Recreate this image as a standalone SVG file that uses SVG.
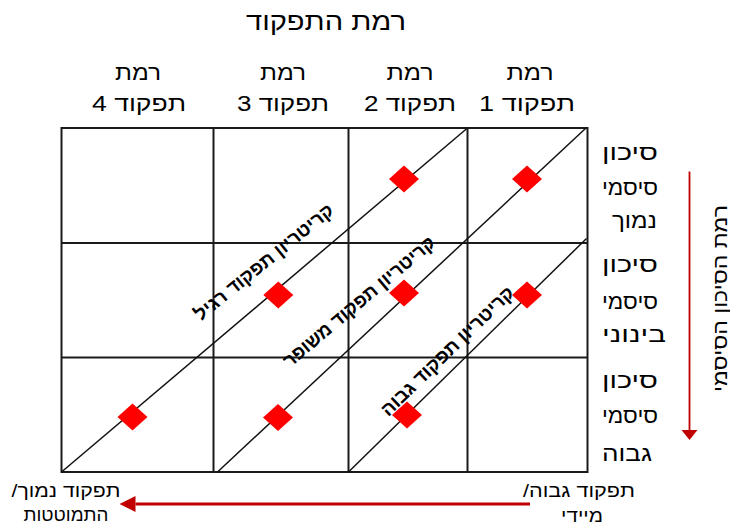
<svg xmlns="http://www.w3.org/2000/svg" width="730" height="527" viewBox="0 0 730 527">
<style>
text{font-family:"Liberation Sans","DejaVu Sans",sans-serif;fill:#000}
.t{font-size:25px;text-anchor:middle}
.h{font-size:22px;text-anchor:middle}
.r{font-size:22px;text-anchor:middle}
.d{font-size:19px;text-anchor:middle;font-weight:bold}
.b{font-size:18px;text-anchor:middle}
.grid{fill:none;stroke:#1a1a1a;stroke-width:2}
.diag{stroke:#111;stroke-width:1.5;fill:none}
.red{stroke:#c00000;fill:none}
</style>
<defs>
<path id="dm" d="M0,-13.5 L15,0 L0,13.5 L-15,0 Z" fill="#ff0000"/>
<marker id="av" markerUnits="userSpaceOnUse" markerWidth="12" markerHeight="18" refX="0" refY="8" orient="auto" overflow="visible"><path d="M0,0 L10,8 L0,16 Z" fill="#c00000"/></marker>
<marker id="ah" markerUnits="userSpaceOnUse" markerWidth="18" markerHeight="18" refX="0" refY="8" orient="auto" overflow="visible"><path d="M0,0 L16,8 L0,16 Z" fill="#c00000"/></marker>
</defs>

<g id="title"><text class="t" x="326" y="29.5" textLength="160" lengthAdjust="spacingAndGlyphs">רמת התפקוד</text></g>

<g id="col-headers">
<text class="h" x="138" y="80" textLength="46" lengthAdjust="spacingAndGlyphs">רמת</text>
<text class="h" x="139" y="111" direction="rtl" textLength="94" lengthAdjust="spacingAndGlyphs">תפקוד 4</text>
<text class="h" x="283" y="80" textLength="46" lengthAdjust="spacingAndGlyphs">רמת</text>
<text class="h" x="283" y="111" direction="rtl" textLength="92" lengthAdjust="spacingAndGlyphs">תפקוד 3</text>
<text class="h" x="410" y="80" textLength="47" lengthAdjust="spacingAndGlyphs">רמת</text>
<text class="h" x="410" y="111" direction="rtl" textLength="92" lengthAdjust="spacingAndGlyphs">תפקוד 2</text>
<text class="h" x="530" y="80" textLength="47" lengthAdjust="spacingAndGlyphs">רמת</text>
<text class="h" x="527" y="111" direction="rtl" textLength="96" lengthAdjust="spacingAndGlyphs">תפקוד 1</text>
</g>

<g id="grid">
<rect class="grid" x="61.5" y="128" width="526" height="344"/>
<line class="grid" x1="213.5" y1="128" x2="213.5" y2="472"/>
<line class="grid" x1="348.5" y1="128" x2="348.5" y2="472"/>
<line class="grid" x1="467.5" y1="128" x2="467.5" y2="472"/>
<line class="grid" x1="61.5" y1="243" x2="587.5" y2="243"/>
<line class="grid" x1="61.5" y1="357.5" x2="587.5" y2="357.5"/>
</g>

<g id="connectors">
<line class="diag" x1="61.5" y1="472" x2="467.5" y2="128"/>
<line class="diag" x1="217.5" y1="472" x2="586" y2="128"/>
<line class="diag" x1="348.5" y1="472" x2="586.5" y2="238.5"/>
<line class="red" stroke-width="1.8" x1="689.5" y1="171.5" x2="689.5" y2="430" marker-end="url(#av)"/>
<line class="red" stroke-width="3" x1="530" y1="504" x2="135.5" y2="504" marker-end="url(#ah)"/>
</g>

<g id="points">
<use href="#dm" x="404" y="179"/>
<use href="#dm" x="527" y="179"/>
<use href="#dm" x="278.3" y="295"/>
<use href="#dm" x="404" y="293"/>
<use href="#dm" x="527" y="295"/>
<use href="#dm" x="132.5" y="417"/>
<use href="#dm" x="278" y="417.5"/>
<use href="#dm" x="407" y="415"/>
</g>

<g id="criteria-labels">
<text class="d" transform="translate(264,262) rotate(-39)" y="6.5" textLength="173" lengthAdjust="spacingAndGlyphs">קריטריון תפקוד רגיל</text>
<text class="d" transform="translate(359,301.5) rotate(-40)" y="6.5" textLength="192" lengthAdjust="spacingAndGlyphs">קריטריון תפקוד משופר</text>
<text class="d" transform="translate(447.3,351) rotate(-44)" y="6.5" textLength="177" lengthAdjust="spacingAndGlyphs">קריטריון תפקוד גבוה</text>
</g>

<g id="row-labels">
<text class="r" x="630" y="160" textLength="56" lengthAdjust="spacingAndGlyphs">סיכון</text>
<text class="r" x="630" y="195" textLength="56" lengthAdjust="spacingAndGlyphs">סיסמי</text>
<text class="r" x="634.5" y="228" textLength="45" lengthAdjust="spacingAndGlyphs">נמוך</text>
<text class="r" x="630" y="272" textLength="56" lengthAdjust="spacingAndGlyphs">סיכון</text>
<text class="r" x="630" y="309" textLength="56" lengthAdjust="spacingAndGlyphs">סיסמי</text>
<text class="r" x="634" y="342" textLength="64" lengthAdjust="spacingAndGlyphs">בינוני</text>
<text class="r" x="630" y="388" textLength="56" lengthAdjust="spacingAndGlyphs">סיכון</text>
<text class="r" x="630" y="423" textLength="56" lengthAdjust="spacingAndGlyphs">סיסמי</text>
<text class="r" x="627" y="461" textLength="50" lengthAdjust="spacingAndGlyphs">גבוה</text>
</g>

<g id="risk-axis-label">
<text font-size="20" text-anchor="middle" transform="translate(727,298.5) rotate(-90)" textLength="187" lengthAdjust="spacingAndGlyphs">רמת הסיכון הסיסמי</text>
</g>

<g id="bottom-labels">
<text class="b" x="66" y="497" direction="rtl" textLength="109" lengthAdjust="spacingAndGlyphs">תפקוד נמוך/</text>
<text class="b" x="66" y="521" textLength="85" lengthAdjust="spacingAndGlyphs">התמוטטות</text>
<text class="b" x="579" y="497" direction="rtl" textLength="112" lengthAdjust="spacingAndGlyphs">תפקוד גבוה/</text>
<text class="b" x="582" y="522" textLength="42" lengthAdjust="spacingAndGlyphs">מיידי</text>
</g>
</svg>
